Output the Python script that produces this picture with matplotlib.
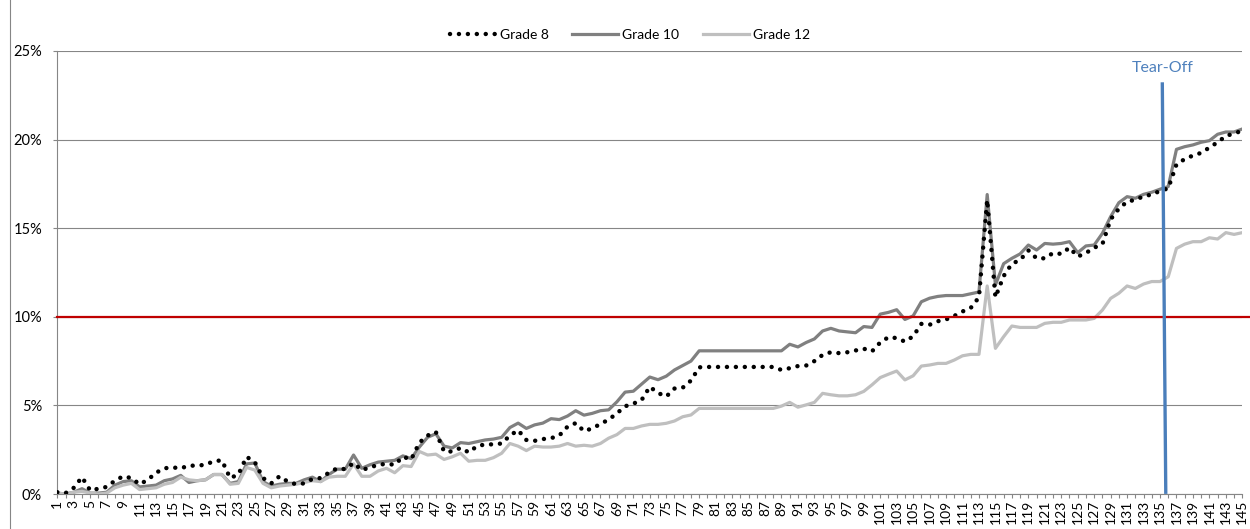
import matplotlib
matplotlib.use("Agg")
import matplotlib.pyplot as plt
from matplotlib.lines import Line2D

plt.rcParams["font.family"] = ["Lato", "DejaVu Sans"]

# values in percent, one per category 1..145
categories = list(range(1, 146))
grade8 = [
    0.1, 0.05, 0.35, 0.95, 0.2, 0.3, 0.4, 0.75, 1.0, 0.9,
    0.55, 0.8, 1.2, 1.45, 1.5, 1.45, 1.6, 1.6, 1.65, 1.85,
    1.9, 0.9, 1.1, 2.1, 1.8, 0.9, 0.6, 1.0, 0.7, 0.55,
    0.6, 0.85, 0.9, 1.2, 1.45, 1.4, 1.75, 1.35, 1.5, 1.65,
    1.7, 1.65, 2.1, 1.95, 2.9, 3.3, 3.5, 2.4, 2.4, 2.6,
    2.35, 2.7, 2.8, 2.8, 2.85, 3.3, 3.6, 3.05, 3.0, 3.1,
    3.15, 3.3, 3.8, 4.0, 3.55, 3.7, 3.95, 4.2, 4.55, 4.95,
    5.1, 5.3, 6.05, 5.7, 5.5, 5.95, 6.0, 6.4, 7.15, 7.17,
    7.17, 7.17, 7.17, 7.17, 7.17, 7.17, 7.17, 7.17, 7.0, 7.1,
    7.22, 7.25, 7.5, 7.85, 8.0, 7.95, 8.0, 8.1, 8.2, 8.05,
    8.55, 8.85, 8.8, 8.6, 8.9, 9.6, 9.55, 9.75, 9.85, 10.05,
    10.3, 10.5, 11.1, 16.6, 11.1, 12.3, 13.0, 13.2, 13.75, 13.3,
    13.3, 13.6, 13.55, 13.9, 13.4, 13.6, 13.9, 14.1, 15.5, 16.1,
    16.5, 16.6, 16.8, 16.9, 17.1, 17.25, 18.6, 18.9, 19.1, 19.25,
    19.55, 19.85, 20.2, 20.35, 20.5,
]
grade10 = [
    0.05, 0.0, 0.1, 0.3, 0.05, 0.05, 0.1, 0.5, 0.7, 0.75,
    0.4, 0.45, 0.5, 0.75, 0.85, 1.05, 0.65, 0.75, 0.8, 1.1,
    1.1, 0.6, 0.7, 1.7, 1.75, 0.7, 0.45, 0.55, 0.6, 0.6,
    0.8, 0.95, 0.7, 1.1, 1.4, 1.4, 2.2, 1.45, 1.65, 1.8,
    1.85, 1.9, 2.15, 2.0, 2.65, 3.2, 3.4, 2.7, 2.6, 2.9,
    2.85, 2.95, 3.05, 3.1, 3.2, 3.75, 4.0, 3.7, 3.9, 4.0,
    4.25, 4.2, 4.4, 4.7, 4.45, 4.55, 4.7, 4.75, 5.2, 5.75,
    5.8, 6.2, 6.6, 6.45, 6.65, 7.0, 7.25, 7.5, 8.08, 8.08,
    8.08, 8.08, 8.08, 8.08, 8.08, 8.08, 8.08, 8.08, 8.08, 8.45,
    8.3, 8.55, 8.75, 9.2, 9.35, 9.2, 9.15, 9.1, 9.45, 9.4,
    10.15, 10.25, 10.4, 9.85, 10.05, 10.85, 11.05, 11.15, 11.2, 11.2,
    11.2, 11.3, 11.4, 16.9, 11.8, 13.0, 13.3, 13.55, 14.05, 13.77,
    14.14, 14.1, 14.14, 14.24, 13.62, 14.0, 14.05, 14.71, 15.65, 16.44,
    16.78, 16.69, 16.91, 17.03, 17.2, 17.35, 19.45, 19.6, 19.7, 19.85,
    19.94, 20.3, 20.43, 20.43, 20.6,
]
grade12 = [
    0.05, 0.0, 0.1, 0.15, 0.05, 0.0, 0.05, 0.35, 0.5, 0.6,
    0.25, 0.3, 0.35, 0.55, 0.65, 0.95, 0.8, 0.75, 0.8, 1.1,
    1.1, 0.55, 0.6, 1.5, 1.35, 0.6, 0.35, 0.45, 0.5, 0.55,
    0.65, 0.75, 0.7, 0.95, 1.0, 1.0, 1.7, 1.0, 1.0, 1.3,
    1.45, 1.2, 1.6, 1.55, 2.4, 2.2, 2.25, 1.95, 2.1, 2.3,
    1.85, 1.9, 1.9, 2.05, 2.3, 2.85, 2.7, 2.45, 2.7, 2.65,
    2.65, 2.7, 2.85, 2.7, 2.75, 2.7, 2.85, 3.15, 3.35, 3.7,
    3.7, 3.84, 3.93, 3.93, 3.99, 4.12, 4.36, 4.46, 4.83, 4.83,
    4.83, 4.83, 4.83, 4.83, 4.83, 4.83, 4.83, 4.83, 4.96, 5.17,
    4.9, 5.03, 5.17, 5.68, 5.6, 5.54, 5.54, 5.6, 5.79, 6.16,
    6.57, 6.76, 6.94, 6.44, 6.67, 7.22, 7.28, 7.37, 7.37, 7.56,
    7.8, 7.88, 7.88, 11.74, 8.22, 8.88, 9.48, 9.4, 9.4, 9.4,
    9.63, 9.69, 9.69, 9.82, 9.82, 9.82, 9.91, 10.38, 11.04, 11.33,
    11.74, 11.6, 11.85, 11.99, 11.99, 12.26, 13.86, 14.1, 14.24, 14.24,
    14.46, 14.39, 14.75, 14.65, 14.75,
]
y_ticks = [0, 5, 10, 15, 20, 25]
threshold = 10
tear_off_x = [135.28, 135.7]   # slightly slanted hand-drawn line
tear_off_y = [23.14, 0.1]

W, H = 1250, 529
fig = plt.figure(figsize=(W / 100, H / 100), dpi=100)
ax = fig.add_axes([57.3 / W, 1 - 494 / H, 1185 / W, 443 / H])

l10, = ax.plot(categories, grade10, color="#808080", lw=2.3, label="Grade 10", zorder=3)
l12, = ax.plot(categories, grade12, color="#BFBFBF", lw=2.3, label="Grade 12", zorder=3)
l8, = ax.plot(categories, grade8, color="black", lw=3.2, linestyle=(0, (0.01, 2.0)),
              dash_capstyle="round", label="Grade 8", zorder=4)

# threshold and tear-off markers
ax.axhline(threshold, xmin=0, xmax=1.007, color="#C00000", lw=1.6, clip_on=False, zorder=5)
ax.plot(tear_off_x, tear_off_y, color="#4A7EBB", lw=2.4, clip_on=False, zorder=6)
ax.text(tear_off_x[0], 24.05, "Tear-Off", color="#4F81BD", fontsize=11.5,
        ha="center", va="center")

ax.set_xlim(1, 145)
ax.set_ylim(0, 25)
ax.set_yticks(y_ticks)
ax.set_yticklabels([f"{t}%" for t in y_ticks])
ax.set_xticks(categories)
ax.set_xticklabels([str(c) if c % 2 == 1 else "" for c in categories], rotation=90)

ax.yaxis.grid(True, color="#868686", lw=0.8)
ax.set_axisbelow(True)
for s in ["top", "right"]:
    ax.spines[s].set_visible(False)
for s in ["left", "bottom"]:
    ax.spines[s].set_color("#868686")
    ax.spines[s].set_linewidth(0.8)
ax.tick_params(axis="y", length=3, width=0.8, color="#868686", pad=8, labelsize=10.5)
ax.tick_params(axis="x", length=3.2, width=0.8, color="#868686", pad=1, labelsize=10)

fig.legend([l8, l10, l12], ["Grade 8", "Grade 10", "Grade 12"], loc="center",
           bbox_to_anchor=(630 / W, 1 - 35 / H), ncol=3, frameon=False, fontsize=10,
           handlelength=3.3, handletextpad=0.3, columnspacing=1.7)

# chart area border on the left
fig.add_artist(Line2D([10 / W, 10 / W], [0, 1], color="#868686", lw=0.8))

fig.savefig("out.png", dpi=100)
